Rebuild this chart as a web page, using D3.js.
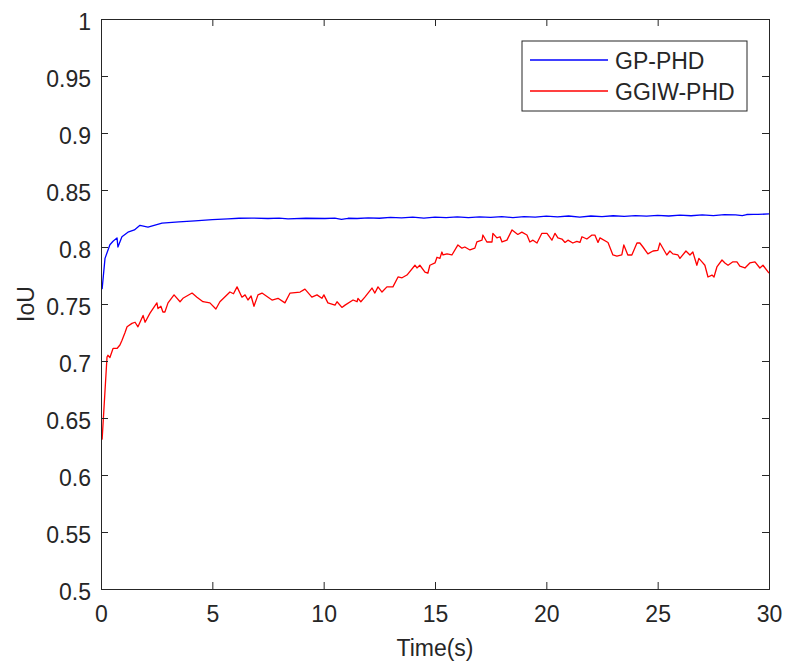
<!DOCTYPE html>
<html>
<head>
<meta charset="utf-8">
<script src="https://cdn.jsdelivr.net/npm/d3@7"></script>
<style>
  html, body { margin: 0; padding: 0; background: #fff; }
  svg { display: block; }
  text { font-family: "Liberation Sans", Arial, Helvetica, sans-serif; fill: #262626; }
</style>
</head>
<body>
<svg id="chart" width="785" height="664"></svg>
<script>
// ---- data ----
const xTicks = [0, 5, 10, 15, 20, 25, 30];
const yTicks = [0.5, 0.55, 0.6, 0.65, 0.7, 0.75, 0.8, 0.85, 0.9, 0.95, 1];
const yTickLabels = ["0.5", "0.55", "0.6", "0.65", "0.7", "0.75", "0.8", "0.85", "0.9", "0.95", "1"];
const seriesNames = ["GP-PHD", "GGIW-PHD"];

const gpTime = [0.05, 0.18, 0.40, 0.54, 0.72, 0.76, 0.94, 1.21, 1.50, 1.75, 2.11, 2.74, 3.5, 4.22, 5.0, 5.70, 6.2, 6.78, 7.5, 8.0, 8.40, 9.2, 10.06, 10.5, 10.8, 11.1, 11.5, 12.0, 12.5, 13.0, 13.5, 14.0, 14.5, 15.0, 15.5, 16.0, 16.5, 17.0, 17.5, 18.0, 18.5, 19.0, 19.5, 20.0, 20.5, 21.0, 21.5, 22.0, 22.5, 23.0, 23.5, 24.0, 24.5, 25.0, 25.5, 26.0, 26.5, 27.0, 27.5, 28.0, 28.5, 28.8, 29.0, 29.3, 29.5, 30];
const gpIoU  = [0.763, 0.790, 0.802, 0.805, 0.808, 0.800, 0.809, 0.813, 0.815, 0.819, 0.8175, 0.821, 0.822, 0.823, 0.824, 0.8246, 0.8252, 0.8254, 0.825, 0.8254, 0.8246, 0.8252, 0.825, 0.8254, 0.8243, 0.8252, 0.825, 0.8256, 0.8252, 0.826, 0.8256, 0.8262, 0.8254, 0.8262, 0.8258, 0.8264, 0.8258, 0.8265, 0.826, 0.8266, 0.8258, 0.8266, 0.8262, 0.827, 0.8264, 0.8272, 0.8262, 0.8272, 0.8266, 0.8274, 0.8268, 0.8276, 0.827, 0.8278, 0.8272, 0.828, 0.8274, 0.8282, 0.8276, 0.8284, 0.8282, 0.8275, 0.8285, 0.8287, 0.8286, 0.829];

const ggiwTime = [0.05, 0.27, 0.31, 0.40, 0.54, 0.72, 0.85, 0.94, 1.08, 1.17, 1.39, 1.53, 1.66, 1.89, 1.98, 2.20, 2.51, 2.56, 2.69, 2.78, 2.87, 3.01, 3.28, 3.55, 3.68, 4.09, 4.31, 4.58, 4.89, 5.16, 5.34, 5.79, 5.95, 6.11, 6.33, 6.47, 6.60, 6.74, 6.87, 7.05, 7.23, 7.68, 7.95, 8.26, 8.49, 8.94, 9.16, 9.47, 9.70, 9.92, 10.01, 10.19, 10.51, 10.60, 10.82, 10.96, 11.32, 11.50, 11.54, 11.67, 11.85, 12.17, 12.30, 12.44, 12.62, 12.84, 13.11, 13.34, 13.52, 13.74, 14.10, 14.19, 14.32, 14.55, 14.68, 14.77, 15.00, 15.09, 15.22, 15.31, 15.36, 15.54, 15.76, 16.03, 16.21, 16.34, 16.57, 16.79, 16.88, 17.11, 17.15, 17.33, 17.56, 17.60, 17.78, 17.92, 18.01, 18.23, 18.46, 18.59, 18.72, 18.90, 19.13, 19.26, 19.40, 19.58, 19.80, 20.03, 20.25, 20.39, 20.52, 20.70, 20.84, 20.97, 21.19, 21.37, 21.51, 21.60, 21.82, 22.05, 22.18, 22.32, 22.41, 22.77, 22.99, 23.17, 23.39, 23.48, 23.66, 23.84, 24.07, 24.20, 24.34, 24.56, 24.79, 25.01, 25.10, 25.41, 25.55, 25.68, 25.91, 26.00, 26.27, 26.45, 26.58, 26.76, 26.85, 26.99, 27.12, 27.26, 27.44, 27.53, 27.66, 27.89, 28.02, 28.16, 28.38, 28.56, 28.69, 28.92, 29.14, 29.37, 29.59, 29.73, 30.00];
const ggiwIoU  = [0.631, 0.7035, 0.705, 0.703, 0.711, 0.711, 0.714, 0.718, 0.725, 0.730, 0.733, 0.734, 0.730, 0.740, 0.734, 0.742, 0.751, 0.746, 0.748, 0.743, 0.743, 0.751, 0.758, 0.752, 0.755, 0.7596, 0.756, 0.752, 0.751, 0.7456, 0.752, 0.7605, 0.759, 0.765, 0.756, 0.758, 0.7535, 0.757, 0.748, 0.758, 0.7596, 0.7535, 0.755, 0.751, 0.7596, 0.7605, 0.763, 0.756, 0.758, 0.755, 0.758, 0.751, 0.749, 0.752, 0.747, 0.749, 0.7535, 0.752, 0.755, 0.752, 0.756, 0.764, 0.7596, 0.765, 0.7605, 0.765, 0.765, 0.7737, 0.773, 0.7754, 0.784, 0.7816, 0.784, 0.778, 0.777, 0.784, 0.786, 0.791, 0.790, 0.7956, 0.793, 0.794, 0.793, 0.8018, 0.799, 0.800, 0.7974, 0.799, 0.8044, 0.806, 0.8105, 0.8044, 0.8044, 0.812, 0.808, 0.809, 0.8044, 0.806, 0.815, 0.813, 0.811, 0.813, 0.8105, 0.8044, 0.806, 0.8035, 0.812, 0.812, 0.806, 0.812, 0.808, 0.807, 0.804, 0.806, 0.8035, 0.805, 0.804, 0.809, 0.807, 0.8105, 0.8105, 0.804, 0.808, 0.804, 0.793, 0.792, 0.793, 0.8018, 0.793, 0.793, 0.8035, 0.8035, 0.800, 0.794, 0.7965, 0.797, 0.8035, 0.793, 0.7965, 0.794, 0.793, 0.790, 0.7965, 0.793, 0.7956, 0.784, 0.790, 0.787, 0.784, 0.7737, 0.7754, 0.7737, 0.7825, 0.7886, 0.786, 0.784, 0.787, 0.787, 0.7833, 0.7816, 0.786, 0.787, 0.7816, 0.784, 0.777];

// ---- layout ----
const svg = d3.select("#chart");
const L = 101, R = 769, T = 19, B = 589;
const axisColor = "#262626";
const fontSize = 23;
const tickLen = 7;

const x = d3.scaleLinear().domain([0, 30]).range([L, R]);
const y = d3.scaleLinear().domain([0.5, 1]).range([B, T]);

svg.append("rect").attr("x", L).attr("y", T).attr("width", R - L).attr("height", B - T).attr("fill", "#fff");

// series
const line = d3.line().x(d => x(d[0])).y(d => y(d[1]));
const gpData = gpTime.map((t, i) => [t, gpIoU[i]]);
const ggiwData = ggiwTime.map((t, i) => [t, ggiwIoU[i]]);

const plot = svg.append("g");
plot.append("path").datum(gpData).attr("d", line)
  .attr("fill", "none").attr("stroke", "#0000ff").attr("stroke-width", 1.3).attr("stroke-linejoin", "round");
plot.append("path").datum(ggiwData).attr("d", line)
  .attr("fill", "none").attr("stroke", "#ff0000").attr("stroke-width", 1.3).attr("stroke-linejoin", "round");

// axes (MATLAB style, ticks inside, box on)
const xAxisB = d3.axisBottom(x).tickValues(xTicks).tickSize(-tickLen).tickFormat(d3.format("d"));
const xAxisT = d3.axisTop(x).tickValues(xTicks).tickSize(-tickLen).tickFormat("");
const yAxisL = d3.axisLeft(y).tickValues(yTicks).tickSize(-tickLen)
  .tickFormat((d, i) => yTickLabels[i]);
const yAxisR = d3.axisRight(y).tickValues(yTicks).tickSize(-tickLen).tickFormat("");

function style(g) {
  g.select(".domain").attr("stroke", axisColor).attr("stroke-width", 1);
  g.selectAll(".tick line").attr("stroke", axisColor).attr("stroke-width", 1);
  g.selectAll(".tick text").attr("fill", axisColor)
    .style("font-size", fontSize + "px")
    .style("font-family", '"Liberation Sans", Arial, sans-serif');
}

svg.append("g").attr("transform", `translate(0,${B})`).call(xAxisB).call(style)
  .call(g => g.selectAll(".tick text").attr("dy", null).attr("y", 33));
svg.append("g").attr("transform", `translate(0,${T})`).call(xAxisT).call(style);
svg.append("g").attr("transform", `translate(${L},0)`).call(yAxisL).call(style)
  .call(g => g.selectAll(".tick text").attr("x", -10).attr("dy", "0.44em"));
svg.append("g").attr("transform", `translate(${R},0)`).call(yAxisR).call(style);

// axis labels
svg.append("text").attr("x", (L + R) / 2).attr("y", 656).attr("text-anchor", "middle")
  .style("font-size", fontSize + "px").text("Time(s)");
svg.append("text").attr("transform", `translate(34,${(T + B) / 2}) rotate(-90)`).attr("text-anchor", "middle")
  .style("font-size", fontSize + "px").text("IoU");

// legend
const lg = svg.append("g");
lg.append("rect").attr("x", 522).attr("y", 41).attr("width", 225).attr("height", 70)
  .attr("fill", "#fff").attr("stroke", axisColor).attr("stroke-width", 1);
const legendColors = ["#0000ff", "#ff0000"];
seriesNames.forEach((name, i) => {
  const cy = 60 + i * 31;
  lg.append("line").attr("x1", 530).attr("x2", 608).attr("y1", cy).attr("y2", cy)
    .attr("stroke", legendColors[i]).attr("stroke-width", 1.3);
  lg.append("text").attr("x", 615).attr("y", cy + 9).style("font-size", fontSize + "px")
    .attr("fill", "#000").text(name);
});
</script>
</body>
</html>
